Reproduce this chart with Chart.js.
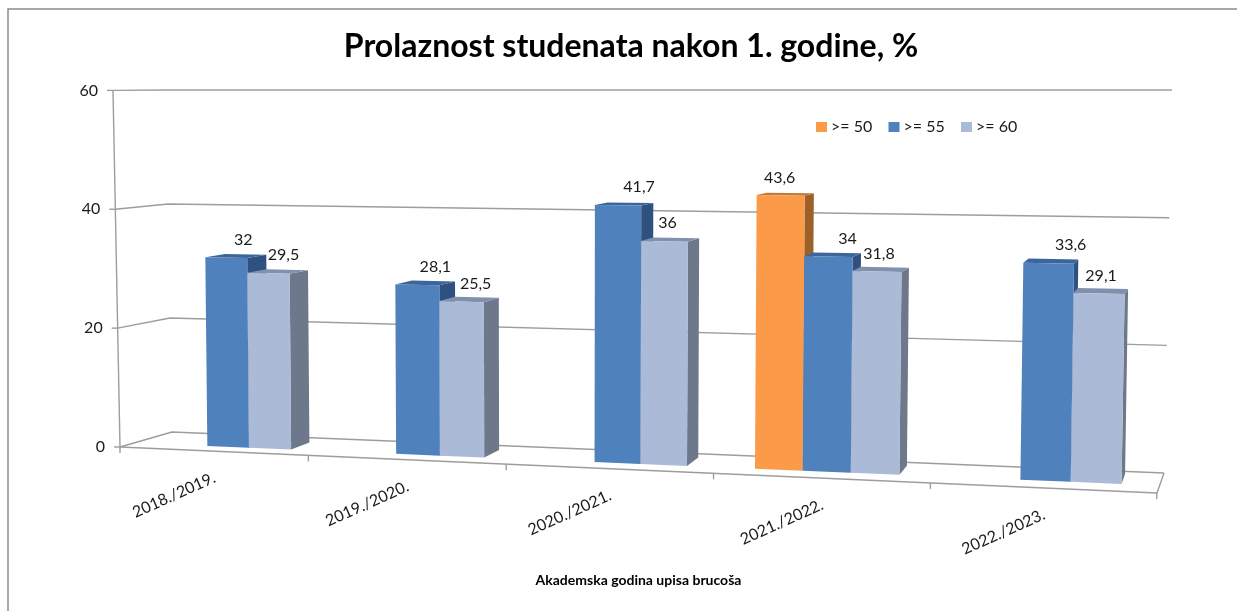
<!DOCTYPE html>
<html><head><meta charset="utf-8">
<style>html,body{margin:0;padding:0;background:#fff}canvas{display:block}</style>
<script src="https://cdn.jsdelivr.net/npm/chart.js@4/dist/chart.umd.js"></script>
</head><body><div style="width:1245px;height:611px"><canvas id="c"></canvas></div>
<script>
const categories = ['2018./2019.','2019./2020.','2020./2021.','2021./2022.','2022./2023.'];
const over50 = [null,null,null,43.6,null];
const over55 = [32,28.1,41.7,34,33.6];
const over60 = [29.5,25.5,36,31.8,29.1];
const yTicks = [0,20,40,60];
const titleText = 'Prolaznost studenata nakon 1. godine, %';
const xTitle = 'Akademska godina upisa brucoša';

const FONT = 'Lato, Carlito, sans-serif';
const faces = {
  '>= 50': {front:'#FB9A48', side:'#9E6029', top:'#C27A3A'},
  '>= 55': {front:'#4F81BD', side:'#2F5180', top:'#3C659C'},
  '>= 60': {front:'#ABBAD7', side:'#6D788B', top:'#8190AC'}
};
// horizontal nudges of the value labels, per series and category
const labelNudge = {
  '>= 50': [0,0,0,-1,0],
  '>= 55': [17,18,21,19,22],
  '>= 60': [15,14,3,2,2]
};

// perspective of the 3-D plot box
const LINE = '#9d9d9d';
const floorX = u => 136.8 + 180.2*u + 4.83*u*u;
const frontX = u => 120 + 183.6*u + 4.75*u*u;
const frontY = x => 447 + 0.0444*(x-120);
function project(chart, px, py){
  const xs = chart.scales.x, ys = chart.scales.y;
  const u = (px - xs.left)/xs.width*categories.length;
  const v = ys.getValueForPixel(py);
  const X = floorX(u);
  return {
    x: X + (X-550)*1.85e-4*v,
    y: 446 + 0.0415*(X-207) - v*(5.9 + 0.000683*(X-205))
  };
}
const poly = (ctx, pts, fill) => {
  ctx.beginPath();
  pts.forEach((p,i)=> i ? ctx.lineTo(p.x,p.y) : ctx.moveTo(p.x,p.y));
  ctx.closePath(); ctx.fillStyle = fill; ctx.fill();
};
const seg = (ctx, a, b, c) => {
  ctx.beginPath(); ctx.moveTo(a[0],a[1]); ctx.lineTo(b[0],b[1]); if(c) ctx.lineTo(c[0],c[1]); ctx.stroke();
};

const box3d = {
  id:'box3d',
  afterLayout(chart){
    const t = chart.titleBlock, w = t.right-t.left;
    t.left = 631-w/2; t.right = 631+w/2;
  },
  beforeDraw(chart){
    const ctx = chart.ctx, ys = chart.scales.y, xs = chart.scales.x;
    // frame
    ctx.save(); ctx.strokeStyle = '#8c8c8c'; ctx.lineWidth = 1.5;
    seg(ctx,[8,611],[8,9],[1237,9]); ctx.restore();
    // move tick labels along the slanted axes
    ys.getLabelItems().forEach(it => {
      const v = Number(it.label);
      it.options.translation[0] = 105 - v*7/60;
    });
    xs.getLabelItems().forEach((it,i) => {
      const X = frontX(i+0.5);
      it.options.translation = [X-39, frontY(X)+44];
      it.options.textAlign = 'center';
      it.options.textBaseline = 'middle';
      it.textOffset = 0;
    });
  },
  beforeDatasetsDraw(chart){
    const ctx = chart.ctx, ys = chart.scales.y;
    ctx.save();
    ctx.strokeStyle = LINE; ctx.lineWidth = 1.4; ctx.lineJoin = 'round';
    // walls and floor
    ys.ticks.forEach(t => {
      const v = t.value, fy = ys.getPixelForValue(v), fx = 120 - v*7/60;
      seg(ctx,[fx-6,fy],[fx,fy]);
      seg(ctx,[fx,fy],[172-v*0.1, 432-v*5.7],[1164+v*8/60, 473-v*6.383]);
    });
    seg(ctx,[120,ys.getPixelForValue(0)],[120-7,ys.getPixelForValue(60)]);
    seg(ctx,[120,447],[1157,493],[1164,473]);
    for(let i=0;i<=categories.length;i++){
      const x = frontX(i), y = frontY(x);
      seg(ctx,[x,y],[x,y+6]);
    }
    // bars, left to right so nearer faces overlap
    const N = chart.data.datasets.length;
    const bars = [];
    for(let d=0;d<N;d++){
      chart.getDatasetMeta(d).data.forEach((el,i)=>{
        if(chart.data.datasets[d].data[i]==null) return;
        bars.push({d,i,el});
      });
    }
    bars.sort((a,b)=> a.i-b.i || a.d-b.d);
    bars.forEach(({d,el})=>{
      const c = faces[chart.data.datasets[d].label];
      const L = el.x-el.width/2, R = el.x+el.width/2;
      const tl = project(chart,L,el.y), tr = project(chart,R,el.y),
            bl = project(chart,L,el.base), br = project(chart,R,el.base);
      const off = p => {
        const dx = 18.3-(p.x-291)*0.0178, D = 7+(p.x-291)*0.0024;
        return {x:p.x+dx, y:p.y-D*(p.y-90)/360};
      };
      poly(ctx,[tr,br,off(br),off(tr)],c.side);
      poly(ctx,[tl,tr,off(tr),off(tl)],c.top);
      poly(ctx,[tl,tr,br,bl],c.front);
    });
    // value labels
    ctx.font = '16px '+FONT; ctx.fillStyle = '#1a1a1a'; ctx.textAlign='center'; ctx.textBaseline='middle';
    bars.forEach(({d,i,el})=>{
      const ds = chart.data.datasets[d];
      const L = el.x-el.width/2, R = el.x+el.width/2;
      const a = project(chart,L,el.y), b = project(chart,R,el.y);
      ctx.fillText(String(ds.data[i]).replace('.',','), (a.x+b.x)/2 + labelNudge[ds.label][i], (a.y+b.y)/2 - 18);
    });
    // legend
    ctx.textAlign='left';
    chart.data.datasets.forEach((ds,k)=>{
      const x = 816 + k*72.5;
      ctx.fillStyle = faces[ds.label].front; ctx.fillRect(x,122,11,10);
      ctx.fillStyle = '#1a1a1a'; ctx.fillText(ds.label,x+15,127);
    });
    ctx.restore();
    return false;
  }
};

const mk = (label,data) => ({label,data,backgroundColor:faces[label].front,categoryPercentage:0.675,barPercentage:1});
new Chart(document.getElementById('c'),{
  type:'bar',
  data:{labels:categories,datasets:[mk('>= 50',over50),mk('>= 55',over55),mk('>= 60',over60)]},
  plugins:[box3d],
  options:{
    responsive:true,maintainAspectRatio:false,animation:false,
    layout:{padding:{left:0,right:88,top:0,bottom:20}},
    plugins:{
      tooltip:{enabled:false},
      legend:{display:false},
      title:{display:true,text:titleText,color:'#000',font:{family:FONT,size:32,weight:'bold'},padding:{top:27.8,bottom:24.2}}
    },
    scales:{
      x:{grid:{display:false},border:{display:false},
         ticks:{autoSkip:false,minRotation:24,maxRotation:24,color:'#1a1a1a',font:{family:FONT,size:16}},
         title:{display:true,text:xTitle,color:'#000',font:{family:FONT,size:14,weight:'bold'},padding:{top:124.6,bottom:2.6}},
         afterFit(s){s.height=144;}},
      y:{min:0,max:60,grid:{display:false},border:{display:false},
         afterBuildTicks(s){s.ticks=yTicks.map(value=>({value}));},
         ticks:{color:'#1a1a1a',font:{family:FONT,size:16},padding:14},
         afterFit(s){s.width=120;}}
    }
  }
});
</script></body></html>
